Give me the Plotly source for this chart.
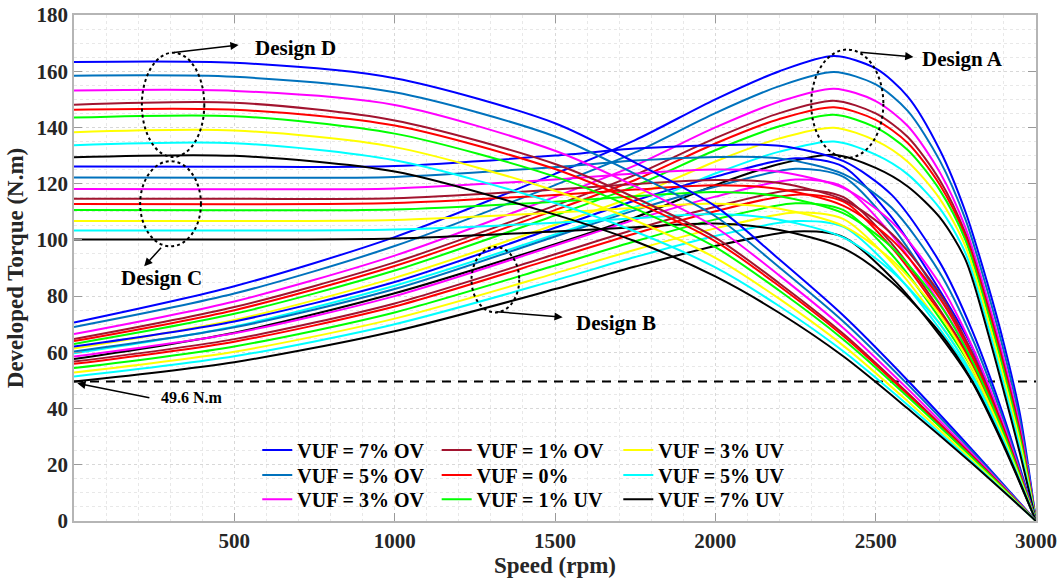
import plotly.graph_objects as go

# ---- torque-speed data (N.m vs rpm) for four rotor designs under voltage unbalance ----
vuf_labels = ["VUF = 7% OV", "VUF = 5% OV", "VUF = 3% OV", "VUF = 1% OV", "VUF = 0%",
              "VUF = 1% UV", "VUF = 3% UV", "VUF = 5% UV", "VUF = 7% UV"]
vuf_colors = ["#0000FF", "#0072BD", "#FF00FF", "#A2142F", "#FF0000",
              "#00FF00", "#FFFF00", "#00FFFF", "#000000"]

# Design A
speed_a = [0, 500, 1000, 1500, 1750, 2000, 2200, 2370, 2500, 2600, 2700, 2780, 2850, 2900, 2950, 3000]
a_7ov = [70.6, 83.5, 101, 123.5, 135.5, 150, 160, 165.4, 161, 151, 132, 110, 84, 63, 38, 0]
a_5ov = [69.0, 80.9, 97.8, 119.5, 131.1, 145.1, 154.7, 159.7, 155.3, 145.9, 128.2, 107.3, 81.3, 60.3, 35.8, 0]
a_3ov = [66.5, 78.1, 94.4, 115.3, 126.5, 140, 149.2, 153.8, 149.4, 140.5, 124.1, 104.4, 78.4, 57.4, 33.4, 0]
a_1ov = [64.7, 76.1, 92, 112.2, 123.1, 136.2, 145.1, 149.5, 145, 136.6, 121.2, 102.3, 76.3, 55.3, 31.7, 0]
a_0 = [64.0, 75, 90.7, 110.6, 121.3, 134.3, 143, 147.2, 142.7, 134.5, 119.6, 101.2, 75.2, 54.2, 30.8, 0]
a_1uv = [63.0, 73.7, 89.1, 108.7, 119.2, 131.9, 140.4, 144.5, 140, 132, 117.7, 99.9, 73.9, 52.9, 29.7, 0]
a_3uv = [61.4, 71.5, 86.5, 105.4, 115.6, 127.9, 136.1, 139.9, 135.3, 127.8, 114.6, 97.7, 71.7, 50.7, 27.9, 0]
a_5uv = [59.7, 69.2, 83.7, 101.9, 111.7, 123.6, 131.4, 135, 130.3, 123.3, 111.2, 95.3, 69.3, 48.3, 25.9, 0]
a_7uv = [57.6, 67, 81, 98.5, 108, 119.5, 127, 130.3, 125.6, 119, 108, 93, 67, 46, 24, 0]

# Design B
speed_b = [0, 500, 1000, 1500, 1750, 2000, 2250, 2400, 2550, 2700, 2800, 2900, 3000]
b_7ov = [62.1, 71, 85, 104.3, 114, 122.5, 129, 126, 108, 82, 62, 33, 0]
b_5ov = [60.3, 68.9, 82.5, 101.2, 110.6, 118.9, 125.3, 122.4, 104.9, 79.7, 60.2, 32.1, 0]
b_3ov = [58.5, 66.8, 80, 98, 107.2, 115.4, 121.5, 118.8, 101.8, 77.4, 58.4, 31.1, 0]
b_1ov = [56.7, 64.7, 77.4, 94.9, 103.8, 111.8, 117.8, 115.2, 98.7, 75.1, 56.6, 30.2, 0]
b_0 = [55.9, 63.8, 76.3, 93.5, 102.3, 110.2, 116.1, 113.6, 97.3, 74.1, 55.9, 29.8, 0]
b_1uv = [54.4, 62.1, 74.2, 90.9, 99.5, 107.3, 113, 110.6, 94.8, 72.1, 54.4, 29, 0]
b_3uv = [52.8, 60.2, 72, 88.1, 96.5, 104.1, 109.7, 107.4, 92, 70.1, 52.8, 28.2, 0]
b_5uv = [51.4, 58.6, 70, 85.6, 93.9, 101.4, 106.7, 104.6, 89.6, 68.3, 51.4, 27.4, 0]
b_7uv = [49.6, 56.5, 67.5, 82.5, 90.5, 97.8, 103, 101, 86.5, 66, 49.6, 26.5, 0]

# Design C
speed_c = [0, 500, 1000, 1500, 1750, 2000, 2200, 2400, 2550, 2700, 2800, 2900, 3000]
c_7ov = [126.1, 126, 126.3, 130, 132.5, 133.7, 133.5, 128, 116, 92, 68, 37, 0]
c_5ov = [122.2, 122.1, 122.4, 125.9, 128.2, 129.5, 129, 123.4, 111.4, 88.3, 65.3, 35.5, 0]
c_3ov = [118.1, 118, 118.3, 121.5, 123.6, 125, 124.2, 118.4, 106.4, 84.3, 62.4, 33.9, 0]
c_1ov = [114.6, 114.6, 114.8, 117.9, 119.9, 121.3, 120.2, 114.2, 102.2, 80.9, 60, 32.6, 0]
c_0 = [112.8, 112.7, 113.1, 116, 117.9, 119.4, 118.1, 112.1, 100.1, 79.2, 58.8, 31.9, 0]
c_1uv = [110.6, 110.5, 110.8, 113.6, 115.5, 117, 115.5, 109.4, 97.4, 77, 57.2, 31, 0]
c_3uv = [106.7, 106.7, 107.1, 109.7, 111.4, 112.9, 111.1, 104.9, 92.9, 73.4, 54.6, 29.5, 0]
c_5uv = [103.3, 103.3, 103.7, 106.1, 107.7, 109.2, 107.2, 100.8, 88.8, 70.1, 52.2, 28.2, 0]
c_7uv = [100.1, 100.1, 100.5, 103, 104.5, 105.8, 103.5, 97, 85, 67, 50, 27, 0]

# Design D
speed_d = [0, 500, 1000, 1500, 1750, 2000, 2200, 2400, 2600, 2800, 3000]
d_7ov = [163.3, 163, 157.5, 141.5, 127.5, 112, 93, 73, 50, 25.5, 0]
d_5ov = [158.4, 158, 152.5, 136.8, 123.4, 108.4, 90.2, 70.9, 48.6, 24.8, 0]
d_3ov = [153.1, 153, 148, 131.7, 119.1, 104.5, 87.3, 68.6, 47, 24, 0]
d_1ov = [148.1, 148.8, 142.5, 127, 115, 100.8, 84.5, 66.5, 45.5, 23.3, 0]
d_0 = [146.3, 146.3, 140.7, 125.2, 113.5, 99.5, 83.5, 65.7, 45, 23, 0]
d_1uv = [143.5, 144, 137.8, 122.5, 111.1, 97.4, 81.9, 64.5, 44.2, 22.6, 0]
d_3uv = [138.3, 138.9, 133, 117.5, 106.9, 93.6, 79, 62.3, 42.6, 21.8, 0]
d_5uv = [133.7, 134.4, 128.3, 113.1, 103, 90.2, 76.4, 60.3, 41.3, 21.1, 0]
d_7uv = [129.4, 129.9, 124.3, 109, 99.5, 87, 74, 58.5, 40, 20.5, 0]

rated_torque = 49.6
speed_limits = [0, 3000]

designs = [
    (speed_a, [a_7ov, a_5ov, a_3ov, a_1ov, a_0, a_1uv, a_3uv, a_5uv, a_7uv]),
    (speed_b, [b_7ov, b_5ov, b_3ov, b_1ov, b_0, b_1uv, b_3uv, b_5uv, b_7uv]),
    (speed_c, [c_7ov, c_5ov, c_3ov, c_1ov, c_0, c_1uv, c_3uv, c_5uv, c_7uv]),
    (speed_d, [d_7ov, d_5ov, d_3ov, d_1ov, d_0, d_1uv, d_3uv, d_5uv, d_7uv]),
]

SERIF = "Liberation Serif"
fig = go.Figure()

# reference torque level
fig.add_trace(go.Scatter(x=speed_limits, y=[rated_torque, rated_torque], mode="lines",
                         line=dict(color="#000000", width=2, dash="9px,7px"),
                         showlegend=False, hoverinfo="skip"))

# one legend box per entry: three columns of three rows
legend_ids = ["legend", "legend2", "legend3", "legend4", "legend5", "legend6",
              "legend7", "legend8", "legend9"]
col_x = [0.1905, 0.377, 0.5658]
row_y = [0.1403, 0.0909, 0.0429]

for d_idx, (spd, curves) in enumerate(designs):
    for i, vals in enumerate(curves):
        fig.add_trace(go.Scatter(
            x=spd, y=vals, mode="lines",
            line=dict(color=vuf_colors[i], width=2, shape="spline", smoothing=0.8),
            name=vuf_labels[i], legend=legend_ids[i],
            showlegend=(d_idx == 0),
        ))

# dotted ellipses around each design group
ellipses = [
    (211.6, 129.5, 406.3, 166.6),
    (206.3, 97.7, 395.9, 128.0),
    (2299, 129.2, 2524, 167.7),
    (1239.7, 74.2, 1388.4, 97.5),
]
for x0, y0, x1, y1 in ellipses:
    fig.add_shape(type="circle", xref="x", yref="y", x0=x0, y0=y0, x1=x1, y1=y1,
                  line=dict(color="#000000", width=2, dash="dot"))

# arrows from ellipses to their labels
arrows = [
    (513.4, 169.3, 307.2, 166.6),
    (2617.8, 165.1, 2447.8, 166.8),
    (218.8, 90.6, 275.9, 97.7),
    (1524, 72.5, 1312.5, 74.5),
    (10.3, 49.0, 239.7, 43.7),
]
for hx, hy, tx, ty in arrows:
    fig.add_annotation(x=hx, y=hy, ax=tx, ay=ty, xref="x", yref="y", axref="x", ayref="y",
                       text="", showarrow=True, arrowhead=2, arrowsize=1.1,
                       arrowwidth=1.5, arrowcolor="#000000")

labels = [
    ("Design D", 690.6, 168.1, 21),
    ("Design A", 2772, 164.2, 21),
    ("Design C", 272.8, 86.5, 21),
    ("Design B", 1691.6, 70.4, 21),
    ("49.6 N.m", 367, 44.1, 16),
]
for txt, x, y, size in labels:
    fig.add_annotation(x=x, y=y, xref="x", yref="y", text=txt, showarrow=False,
                       font=dict(family=SERIF, size=size, color="#000000", weight="bold"))

legend_layout = {}
for i, lid in enumerate(legend_ids):
    legend_layout[lid] = dict(
        x=col_x[i // 3], y=row_y[i % 3], xanchor="left", yanchor="middle",
        bgcolor="rgba(255,255,255,0)", borderwidth=0,
        font=dict(family=SERIF, size=20, color="#000000", weight="bold"),
    )

fig.update_layout(
    width=1062, height=585,
    margin=dict(l=74, r=26, t=15, b=64),
    paper_bgcolor="#ffffff", plot_bgcolor="#ffffff",
    **legend_layout,
    xaxis=dict(
        range=[0, 3000], tickvals=[500, 1000, 1500, 2000, 2500, 3000],
        automargin=False,
        ticks="inside", ticklen=8, tickcolor="#9a9a9a", mirror="ticks",
        showline=True, linecolor="#b5b5b5", linewidth=1.5,
        showgrid=True, gridcolor="#d8d8d8", griddash="dot", gridwidth=1,
        minor=dict(dtick=100, showgrid=True, gridcolor="#e8e8e8", griddash="dot", gridwidth=1),
        zeroline=False,
        tickfont=dict(family=SERIF, size=21, color="#262626", weight="bold"),
        title=dict(text="Speed (rpm)", standoff=4,
                   font=dict(family=SERIF, size=23, color="#262626", weight="bold")),
    ),
    yaxis=dict(
        range=[0, 180], dtick=20,
        automargin=False,
        ticks="inside", ticklen=8, tickcolor="#9a9a9a", mirror="ticks",
        showline=True, linecolor="#b5b5b5", linewidth=1.5,
        showgrid=True, gridcolor="#d8d8d8", griddash="dot", gridwidth=1,
        minor=dict(dtick=5, showgrid=True, gridcolor="#e8e8e8", griddash="dot", gridwidth=1),
        zeroline=False,
        tickfont=dict(family=SERIF, size=21, color="#262626", weight="bold"),
        title=dict(text="Developed Torque (N.m)", standoff=6,
                   font=dict(family=SERIF, size=23, color="#262626", weight="bold")),
    ),
)

fig.write_html("out.html")
